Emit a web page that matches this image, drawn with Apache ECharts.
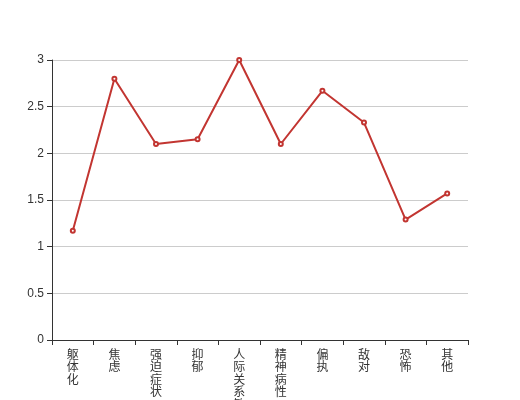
<!DOCTYPE html>
<html><head><meta charset="utf-8">
<script src="https://cdn.jsdelivr.net/npm/echarts@6/dist/echarts.min.js"></script>
<style>html,body{margin:0;padding:0;background:#fff}#c{width:520px;height:400px}</style>
</head><body><div id="c"></div>
<script>
var categories = ['躯体化','焦虑','强迫症状','抑郁','人际关系敏感','精神病性','偏执','敌对','恐怖','其他'];
var values = [1.17, 2.80, 2.10, 2.15, 3.00, 2.10, 2.67, 2.33, 1.29, 1.57];
var yTicks = {min: 0, max: 3, interval: 0.5};
var chart = echarts.init(document.getElementById('c'));
chart.setOption({
  animation: false,
  grid: {left: 52, right: 52, top: 60, bottom: 60, containLabel: false, outerBoundsMode: 'none'},
  xAxis: {
    type: 'category', data: categories, boundaryGap: true,
    axisLine: {lineStyle: {color: '#333'}},
    axisTick: {show: true, lineStyle: {color: '#333'}},
    axisLabel: {
      interval: 0, color: '#333', fontSize: 12, lineHeight: 12.5,
      fontFamily: 'Noto Sans CJK SC',
      formatter: function (v) { return v.split('').join('\n'); }
    }
  },
  yAxis: {
    type: 'value', min: yTicks.min, max: yTicks.max, interval: yTicks.interval,
    axisLine: {show: true, lineStyle: {color: '#333'}},
    axisTick: {show: true, lineStyle: {color: '#333'}},
    axisLabel: {color: '#333', fontSize: 12},
    splitLine: {lineStyle: {color: '#ccc'}}
  },
  series: [{
    type: 'line', data: values,
    symbol: 'emptyCircle', symbolSize: 4,
    lineStyle: {color: '#c23531', width: 2},
    itemStyle: {color: '#c23531'}
  }]
});
</script></body></html>
